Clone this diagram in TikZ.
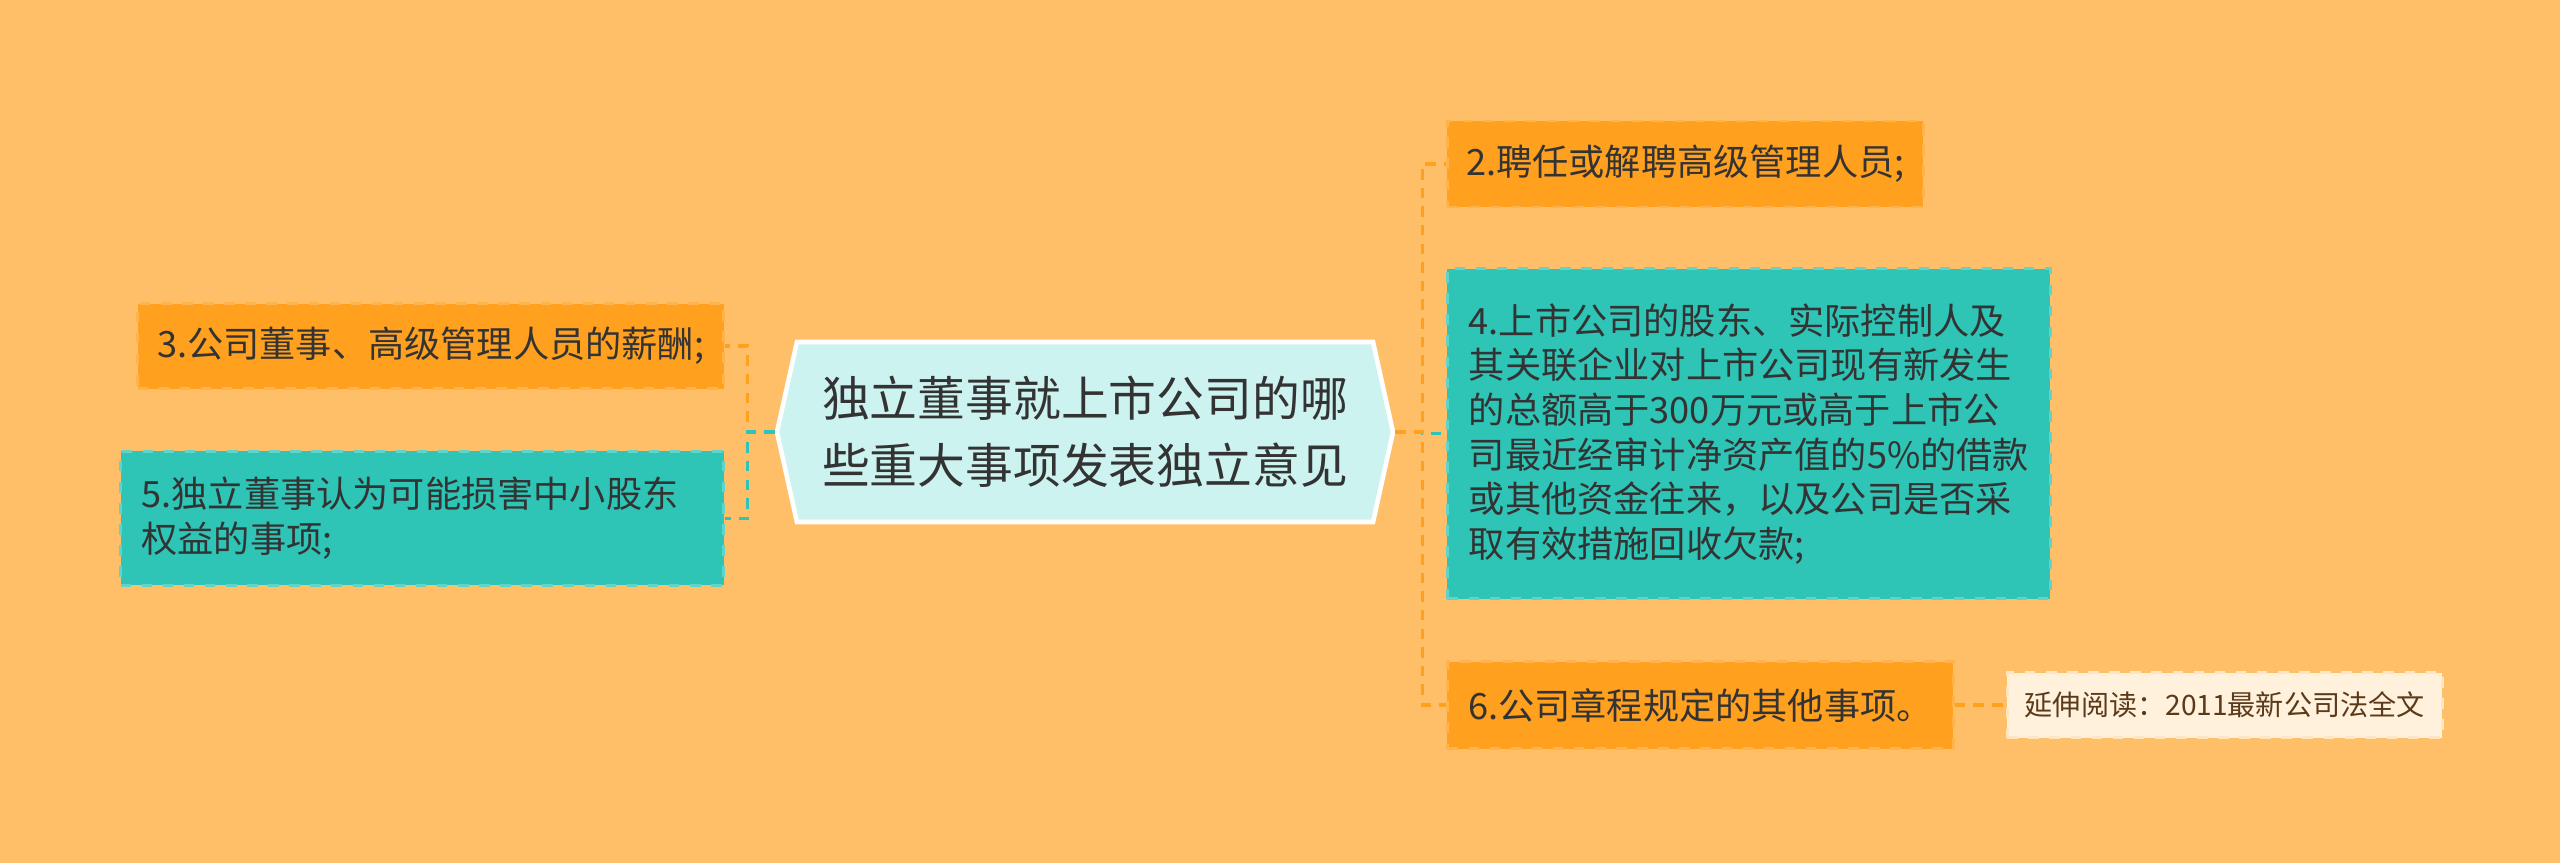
\documentclass[tikz,border=0pt]{standalone}
\usepackage{fontspec}
\setmainfont{Noto Sans CJK SC}
\usepackage{tikz}
\usetikzlibrary{shapes.symbols, positioning}
\definecolor{bgorange}{HTML}{FFBF69}
\definecolor{boxorange}{HTML}{FFA01F}
\definecolor{boxteal}{HTML}{2EC4B6}
\definecolor{topicfill}{HTML}{CCF3F0}
\definecolor{notefill}{HTML}{FFF1DC}
\definecolor{textgray}{HTML}{333333}
\definecolor{notebrown}{HTML}{5B3A1A}
\tikzstyle{topic} = [signal, signal to=west and east, signal pointer angle=155, fill=topicfill, draw=white, line width=1.3pt, text=textgray, align=center, font=\fontsize{13.6}{19}\selectfont, minimum width=6.16cm, minimum height=1.8cm]
\tikzstyle{orangebox} = [rectangle, fill=boxorange, draw=boxorange!80!white, dashed, line width=0.8pt, text=textgray, align=left, font=\fontsize{10.3}{12.7}\selectfont]
\tikzstyle{tealbox} = [rectangle, fill=boxteal, draw=boxteal!75!white, dashed, line width=0.8pt, text=textgray, align=left, font=\fontsize{10.3}{12.7}\selectfont]
\tikzstyle{notebox} = [rectangle, fill=notefill, draw=notefill!85!boxorange, dashed, line width=0.8pt, text=notebrown, font=\fontsize{8}{10}\selectfont, minimum width=4.35cm, minimum height=0.65cm]
\tikzstyle{orangelink} = [draw=boxorange, line width=0.95pt, dash pattern=on 3pt off 2.3pt]
\tikzstyle{teallink} = [draw=boxteal, line width=0.95pt, dash pattern=on 3pt off 2.3pt]

\begin{document}
\begin{tikzpicture}
        \useasboundingbox (0,0) rectangle (25.6,-8.63);
        \fill [bgorange] (0,0) rectangle (25.6,-8.63);

        \node (topic) [topic] at (10.85,-4.32) {独立董事就上市公司的哪\\些重大事项发表独立意见};

        \node (n3) [orangebox, anchor=east, minimum width=5.86cm, minimum height=0.85cm] at (7.25,-3.46) {3.公司董事、高级管理人员的薪酬;};
        \node (n5) [tealbox, below=0.6cm of n3.south east, anchor=north east, inner xsep=0.21cm, text width=5.61cm, minimum height=1.34cm] {5.独立董事认为可能损害中小股东\\权益的事项;};

        \node (n2) [orangebox, anchor=west, minimum width=4.76cm, minimum height=0.86cm] at (14.46,-1.64) {2.聘任或解聘高级管理人员;};
        \node (n4) [tealbox, below=0.59cm of n2.south west, anchor=north west, minimum width=6.03cm, minimum height=3.3cm] {4.上市公司的股东、实际控制人及\\其关联企业对上市公司现有新发生\\的总额高于300万元或高于上市公\\司最近经审计净资产值的5\%的借款\\或其他资金往来，以及公司是否采\\取有效措施回收欠款;};
        \node (n6) [orangebox, below=0.6cm of n4.south west, anchor=north west, minimum width=5.06cm, minimum height=0.87cm] {6.公司章程规定的其他事项。};
        \node (n7) [notebox, right=0.51cm of n6] {延伸阅读：2011最新公司法全文};

        \draw [orangelink] (topic.west) -- ++(-0.27,0) |- (n3.east);
        \draw [teallink] (topic.west) -- ++(-0.27,0) |- (n5.east);

        \draw [teallink] (topic.east) -- ++(0.27,0) |- (n4.west);
        \draw [orangelink] (topic.east) -- ++(0.27,0) |- (n2.west);
        \draw [orangelink] (topic.east) -- ++(0.27,0) |- (n6.west);
        \draw [orangelink] (n6) -- (n7);
\end{tikzpicture}
\end{document}
